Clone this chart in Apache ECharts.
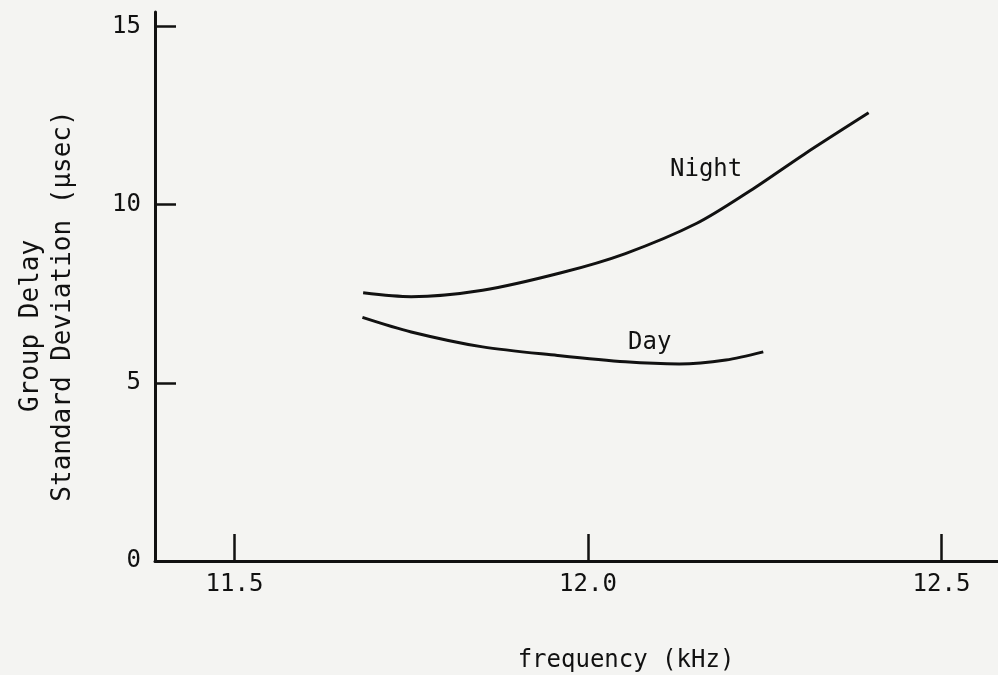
<!DOCTYPE html>
<html>
<head>
<meta charset="utf-8">
<script src="https://cdn.jsdelivr.net/npm/echarts@6/dist/echarts.min.js"></script>
<style>
html,body{margin:0;padding:0;background:#f4f4f2;}
#chart{width:998px;height:675px;}
</style>
</head>
<body>
<div id="chart"></div>
<script>
// Data
const nightFreq = [11.682, 11.750, 11.851, 11.962, 12.053, 12.154, 12.230, 12.306, 12.397];
const nightSD   = [7.53, 7.42, 7.60, 8.09, 8.63, 9.48, 10.40, 11.42, 12.58];
const dayFreq   = [11.681, 11.750, 11.851, 11.957, 12.053, 12.129, 12.195, 12.248];
const daySD     = [6.84, 6.43, 6.01, 5.77, 5.59, 5.53, 5.64, 5.87];
const xTicks = [11.5, 12.0, 12.5];
const yTicks = [5, 10, 15];
const yLabels = [0, 5, 10, 15];

const FONT = 'DejaVu Sans Mono';
const INK = '#111';

const chart = echarts.init(document.getElementById('chart'), null, {renderer: 'canvas'});
const zip = (a, b) => a.map((v, i) => [v, b[i]]);

chart.setOption({
  backgroundColor: '#f4f4f2',
  animation: false,
  grid: {left: 155, top: 12, right: 0, bottom: 114, containLabel: false, outerBoundsMode: 'none'},
  xAxis: {
    type: 'value', min: 11.3876, max: 12.58,
    axisLine: {show: true, lineStyle: {color: INK, width: 3}},
    axisTick: {show: true, inside: true, length: 27, lineStyle: {color: INK, width: 2.5}, customValues: xTicks},
    axisLabel: {customValues: xTicks, margin: 12, color: INK, fontFamily: FONT, fontSize: 24,
      formatter: v => v.toFixed(1)},
    splitLine: {show: false}
  },
  yAxis: {
    type: 'value', min: 0, max: 15.41,
    axisLine: {show: true, lineStyle: {color: INK, width: 3}},
    axisTick: {show: true, inside: true, length: 21, lineStyle: {color: INK, width: 2.5}, customValues: yTicks},
    axisLabel: {customValues: yLabels, margin: 14, color: INK, fontFamily: FONT, fontSize: 24},
    splitLine: {show: false}
  },
  series: [
    {name: 'Night', type: 'line', data: zip(nightFreq, nightSD), smooth: 0.3, showSymbol: false,
      lineStyle: {color: INK, width: 3}},
    {name: 'Day', type: 'line', data: zip(dayFreq, daySD), smooth: 0.3, showSymbol: false,
      lineStyle: {color: INK, width: 3}}
  ],
  graphic: [
    {type: 'text', left: 670, top: 158, style: {text: 'Night', font: '24px ' + FONT, fill: INK}},
    {type: 'text', left: 628, top: 331, style: {text: 'Day', font: '24px ' + FONT, fill: INK}},
    {type: 'text', x: 626, y: 661, style: {text: 'frequency (kHz)', font: '24px ' + FONT, fill: INK, align: 'center', verticalAlign: 'middle'}},
    {type: 'text', x: 31, y: 326, rotation: Math.PI / 2, style: {text: 'Group Delay', font: '26px ' + FONT, fill: INK, align: 'center', verticalAlign: 'middle'}},
    {type: 'text', x: 63, y: 306, rotation: Math.PI / 2, style: {text: 'Standard Deviation (μsec)', font: '26px ' + FONT, fill: INK, align: 'center', verticalAlign: 'middle'}}
  ]
});
</script>
</body>
</html>
